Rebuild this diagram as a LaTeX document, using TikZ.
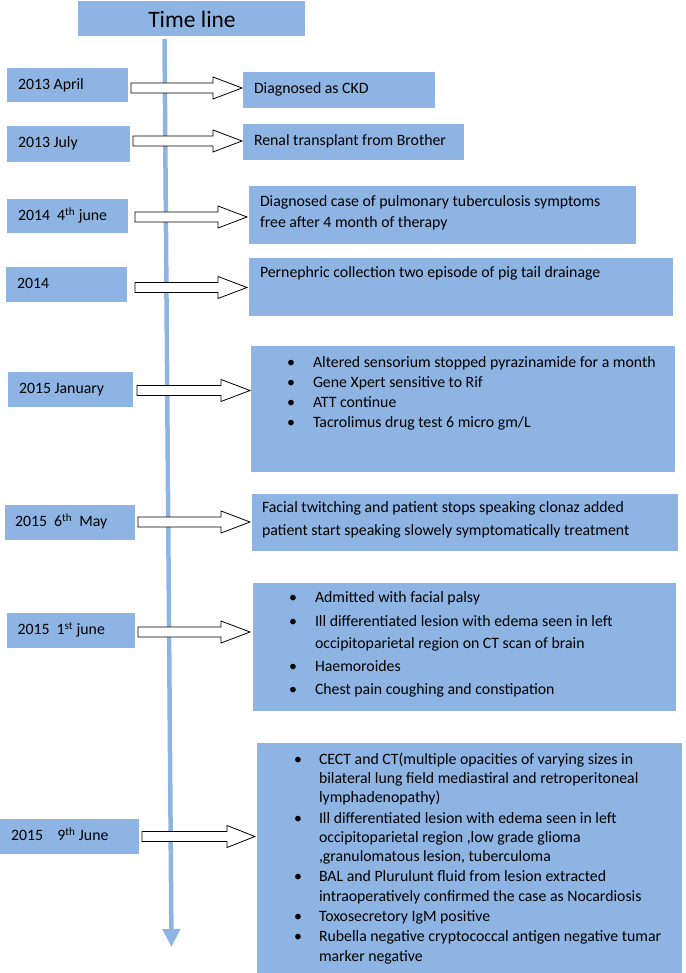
\documentclass[tikz,border=0pt]{standalone}
\usepackage{fontspec}
\setmainfont{Carlito}
\usetikzlibrary{arrows.meta}
\definecolor{boxblue}{HTML}{8EB4E3}
\newcommand\blockarrow[4]{%
  \draw[barrow] (#1,#4-5) -- (#2,#4-5) -- (#2,#4-11) -- (#3,#4) -- (#2,#4+11) -- (#2,#4+5) -- (#1,#4+5) -- cycle;}
\begin{document}
\begin{tikzpicture}[x=1pt,y=-1pt,
  bx/.style={fill=boxblue, draw=none, inner sep=0pt, outer sep=0pt, anchor=north west},
  txt/.style={inner sep=0pt, outer sep=0pt, anchor=west, font=\fontsize{15.8}{19}\selectfont, text height=11.5pt, text depth=3pt},
  barrow/.style={draw=black, fill=white, line width=0.8pt, line join=miter},
  vline/.style={draw=boxblue, line width=4.5pt, -{Triangle[width=17pt,length=18pt]}}]
\useasboundingbox (0,0) rectangle (685,973);

% title
\node[bx, minimum width=227pt, minimum height=35pt] (title) at (78,1) {};
\node[inner sep=0pt, anchor=base, font=\fontsize{23.5}{28}\selectfont] (titletext) at (192,27.5) {Time line};

% time line
\coordinate (vtop) at (164.5,39);
\coordinate (vend) at (171.5,947);
\draw[vline] (vtop) -- (vend);

% left date boxes
\node[bx, minimum width=121pt, minimum height=34pt] (L1) at (7,68) {};
\node[txt] (L1t) at (18,85) {2013 April};
\node[bx, minimum width=123pt, minimum height=36pt] (L2) at (7,126) {};
\node[txt] (L2t) at (18,143) {2013 July};
\node[bx, minimum width=121pt, minimum height=34pt] (L3) at (7,199) {};
\node[txt] (L3t) at (18,216) {2014\ \ 4\textsuperscript{th} june};
\node[bx, minimum width=121pt, minimum height=35pt] (L4) at (6,267) {};
\node[txt] (L4t) at (17,284) {2014};
\node[bx, minimum width=125pt, minimum height=35pt] (L5) at (8,372) {};
\node[txt] (L5t) at (19,389) {2015 January};
\node[bx, minimum width=130pt, minimum height=35pt] (L6) at (5,505) {};
\node[txt] (L6t) at (15,522) {2015\ \ 6\textsuperscript{th}\ \ May};
\node[bx, minimum width=128pt, minimum height=35pt] (L7) at (7,613) {};
\node[txt] (L7t) at (17.5,630) {2015\ \ 1\textsuperscript{st} june};
\node[bx, minimum width=139pt, minimum height=35pt] (L8) at (0,819) {};
\node[txt] (L8t) at (11,836) {2015\ \ \ \ 9\textsuperscript{th} June};

% right event boxes
\node[bx, minimum width=192pt, minimum height=36pt] (R1) at (243,72) {};
\node[txt] (R1a) at (254,89) {Diagnosed as CKD};
\node[bx, minimum width=221pt, minimum height=36pt] (R2) at (243,124) {};
\node[txt] (R2a) at (254,141) {Renal transplant from Brother};
\node[bx, minimum width=387pt, minimum height=58pt] (R3) at (249,186) {};
\node[txt] (R3a) at (260,202) {Diagnosed case of pulmonary tuberculosis symptoms};
\node[txt] (R3b) at (260,223) {free after 4 month of therapy};
\node[bx, minimum width=424pt, minimum height=58pt] (R4) at (249,258) {};
\node[txt] (R4a) at (260,273) {Pernephric collection two episode of pig tail drainage};

\node[bx, minimum width=424pt, minimum height=126pt] (R5) at (251,346) {};
\node[txt] (R5b1) at (287,363) {\textbullet};
\node[txt] (R5a) at (313,363) {Altered sensorium stopped pyrazinamide for a month};
\node[txt] (R5b2) at (287,383) {\textbullet};
\node[txt] (R5b) at (313,383) {Gene Xpert sensitive to Rif};
\node[txt] (R5b3) at (287,403) {\textbullet};
\node[txt] (R5c) at (313,403) {ATT continue};
\node[txt] (R5b4) at (287,423) {\textbullet};
\node[txt] (R5d) at (313,423) {Tacrolimus drug test 6 micro gm/L};

\node[bx, minimum width=426pt, minimum height=57pt] (R6) at (252,494) {};
\node[txt] (R6a) at (262,508) {Facial twitching and patient stops speaking clonaz added};
\node[txt] (R6b) at (262,531) {patient start speaking slowely symptomatically treatment};

\node[bx, minimum width=423pt, minimum height=128pt] (R7) at (253,583) {};
\node[txt] (R7b1) at (289,598) {\textbullet};
\node[txt] (R7a) at (315,598) {Admitted with facial palsy};
\node[txt] (R7b2) at (289,622) {\textbullet};
\node[txt] (R7b) at (315,622) {Ill differentiated lesion with edema seen in left};
\node[txt] (R7c) at (315,644) {occipitoparietal region on CT scan of brain};
\node[txt] (R7b3) at (289,667) {\textbullet};
\node[txt] (R7d) at (315,667) {Haemoroides};
\node[txt] (R7b4) at (289,690) {\textbullet};
\node[txt] (R7e) at (315,690) {Chest pain coughing and constipation};

\node[bx, minimum width=425pt, minimum height=231pt] (R8) at (257,743) {};
\node[txt] (R8b1) at (294,760) {\textbullet};
\node[txt] (R8a) at (319,760) {CECT and CT(multiple opacities of varying sizes in};
\node[txt] (R8b) at (319,779) {bilateral lung field mediastiral and retroperitoneal};
\node[txt] (R8c) at (319,798) {lymphadenopathy)};
\node[txt] (R8b2) at (294,819) {\textbullet};
\node[txt] (R8d) at (319,819) {Ill differentiated lesion with edema seen in left};
\node[txt] (R8e) at (319,838) {occipitoparietal region ,low grade glioma};
\node[txt] (R8f) at (319,857) {,granulomatous lesion, tuberculoma};
\node[txt] (R8b3) at (294,877) {\textbullet};
\node[txt] (R8g) at (319,877) {BAL and Plurulunt fluid from lesion extracted};
\node[txt] (R8h) at (319,897) {intraoperatively confirmed the case as Nocardiosis};
\node[txt] (R8b4) at (294,917) {\textbullet};
\node[txt] (R8i) at (319,917) {Toxosecretory IgM positive};
\node[txt] (R8b5) at (294,937) {\textbullet};
\node[txt] (R8j) at (319,937) {Rubella negative cryptococcal antigen negative tumar};
\node[txt] (R8k) at (319,957) {marker negative};

% block arrows
\blockarrow{131}{213}{242}{88}
\blockarrow{133}{213}{242}{141}
\blockarrow{135}{218}{247}{217}
\blockarrow{135}{218}{247}{287.5}
\blockarrow{137}{221}{250}{390.5}
\blockarrow{138}{221}{250}{522}
\blockarrow{138}{221}{250}{632}
\blockarrow{142}{227}{255}{836.5}
\end{tikzpicture}
\end{document}
